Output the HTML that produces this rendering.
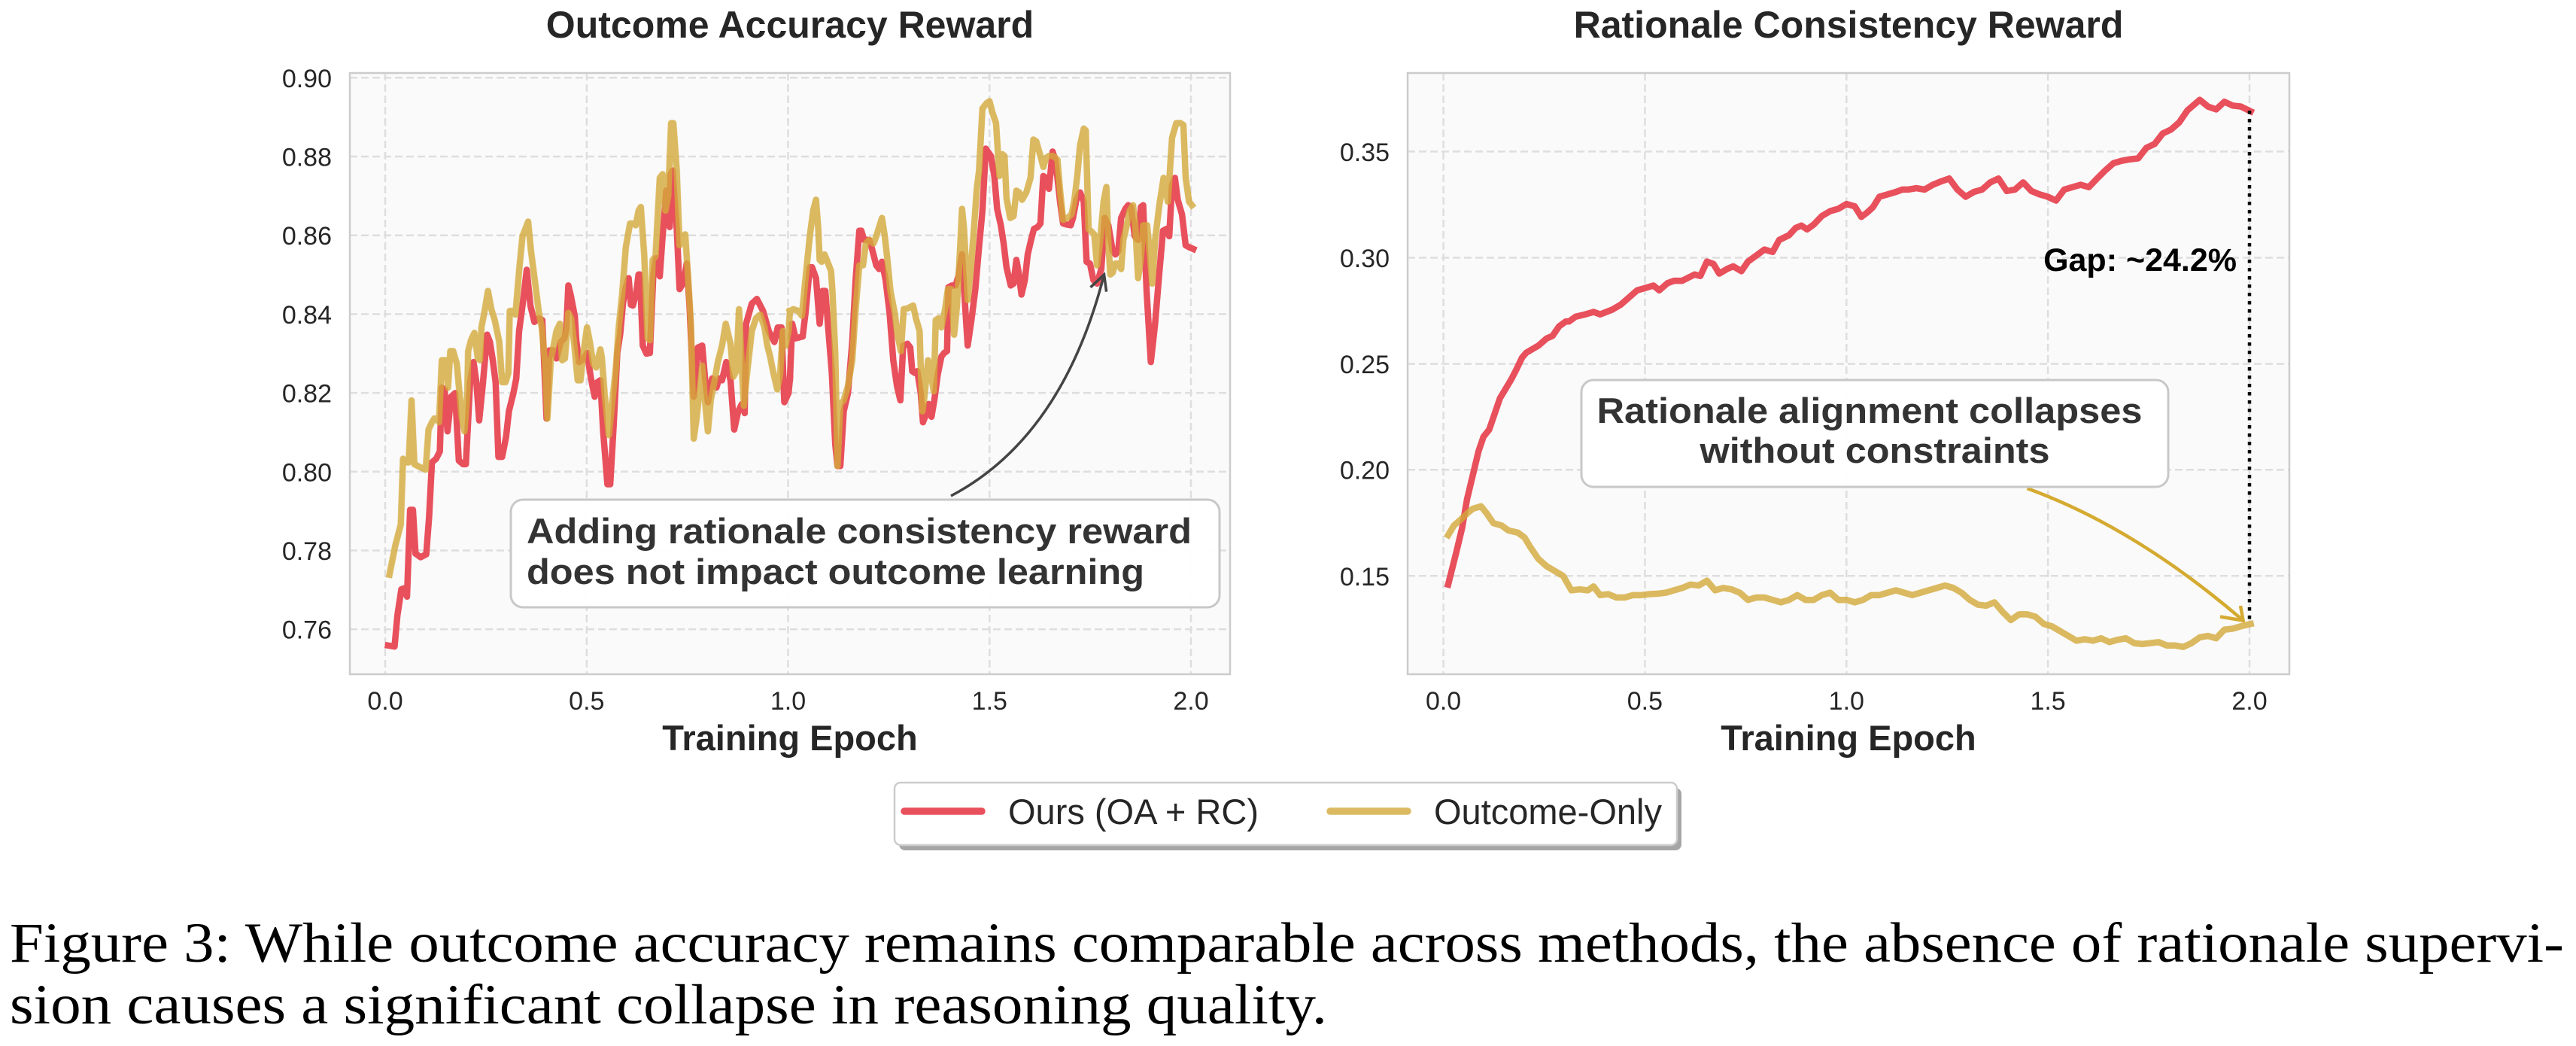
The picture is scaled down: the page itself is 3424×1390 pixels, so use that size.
<!DOCTYPE html>
<html><head><meta charset="utf-8"><style>
html,body{margin:0;padding:0;background:#fff;}
body{width:3424px;height:1390px;overflow:hidden;}
svg{display:block;}
.t{font-family:"Liberation Sans",Arial,sans-serif;fill:#262626;}
</style></head><body>
<svg width="3424" height="1390" viewBox="0 0 3424 1390" xmlns="http://www.w3.org/2000/svg">
<rect x="0" y="0" width="3424" height="1390" fill="#fff"/>

<!-- Titles -->
<text class="t" x="1050" y="50" font-size="50" font-weight="bold" text-anchor="middle">Outcome Accuracy Reward</text>
<text class="t" x="2457" y="50" font-size="50" font-weight="bold" text-anchor="middle">Rationale Consistency Reward</text>

<!-- Left axes background -->
<rect x="465" y="97" width="1170" height="799" fill="#FAFAFA"/>
<g stroke="#DEDEDE" stroke-width="2.5" stroke-dasharray="10 5" fill="none">
  <line x1="465" x2="1635" y1="103.3" y2="103.3"/>
  <line x1="465" x2="1635" y1="208" y2="208"/>
  <line x1="465" x2="1635" y1="312.7" y2="312.7"/>
  <line x1="465" x2="1635" y1="417.4" y2="417.4"/>
  <line x1="465" x2="1635" y1="522.1" y2="522.1"/>
  <line x1="465" x2="1635" y1="626.8" y2="626.8"/>
  <line x1="465" x2="1635" y1="731.5" y2="731.5"/>
  <line x1="465" x2="1635" y1="836.2" y2="836.2"/>
  <line y1="97" y2="896" x1="512" x2="512"/>
  <line y1="97" y2="896" x1="779.8" x2="779.8"/>
  <line y1="97" y2="896" x1="1047.5" x2="1047.5"/>
  <line y1="97" y2="896" x1="1315.3" x2="1315.3"/>
  <line y1="97" y2="896" x1="1583" x2="1583"/>
</g>

<!-- Right axes background -->
<rect x="1871" y="97" width="1172" height="799" fill="#FAFAFA"/>
<g stroke="#DEDEDE" stroke-width="2.5" stroke-dasharray="10 5" fill="none">
  <line x1="1871" x2="3043" y1="201.4" y2="201.4"/>
  <line x1="1871" x2="3043" y1="342.5" y2="342.5"/>
  <line x1="1871" x2="3043" y1="483.6" y2="483.6"/>
  <line x1="1871" x2="3043" y1="624.2" y2="624.2"/>
  <line x1="1871" x2="3043" y1="765.3" y2="765.3"/>
  <line y1="97" y2="896" x1="1918.6" x2="1918.6"/>
  <line y1="97" y2="896" x1="2186.4" x2="2186.4"/>
  <line y1="97" y2="896" x1="2454.3" x2="2454.3"/>
  <line y1="97" y2="896" x1="2722.1" x2="2722.1"/>
  <line y1="97" y2="896" x1="2990" x2="2990"/>
</g>

<!-- Left series: red -->
<g fill="none" stroke="#E8505C" stroke-width="8.5" stroke-linejoin="round" stroke-linecap="square">
<polyline vector-effect="non-scaling-stroke" transform="translate(465,120) scale(0.37622,0.48473)" points="135,1522 158,1525 168,1440 182,1368 193,1365 202,1388 213,1150 223,1150 232,1270 250,1280 270,1272 280,1170 290,1020 305,1010 318,990 325,815 335,820 345,935 358,840 372,830 385,1015 400,1025 410,1025 425,800 437,745 447,800 457,905 470,805 485,670 495,690 505,740 515,800 525,1005 538,1005 552,950 562,880 578,830 588,790 598,660 610,590 625,492 638,590 652,635 668,625 680,630 695,900 705,713 720,713 730,735 745,690 758,680 765,650 772,535 780,560 795,620 800,685 810,745 828,735 838,720 852,790 865,840 875,800 885,795 895,935 910,1080 920,1080 932,920 945,720 955,670 965,585 975,540 985,515 993,588 1000,590 1012,555 1020,505 1025,505 1035,700 1048,722 1060,720 1072,510 1082,460 1095,510 1105,400 1118,275 1130,375 1133,230 1140,220 1155,380 1165,545 1180,525 1190,475 1200,590 1215,840 1230,705 1245,700 1255,790 1265,855 1280,790 1295,815 1305,790 1315,795 1330,745 1345,795 1358,930 1372,880 1385,860 1395,885 1400,640 1420,585 1438,572 1460,605 1480,660 1500,690 1512,650 1525,650 1535,855 1550,830 1555,790"/>
<polyline vector-effect="non-scaling-stroke" transform="translate(1050,120) scale(0.37622,0.48473)" points="0,790 8,640 20,680 45,675 55,610 70,485 78,485 92,515 105,640 115,550 125,550 135,650 148,775 160,970 168,1030 178,1030 190,880 205,830 220,690 232,520 245,385 252,385 262,410 280,410 290,435 305,480 315,490 325,470 338,520 352,610 365,740 378,810 390,850 400,700 415,695 425,705 432,770 442,775 450,770 462,830 470,910 480,890 490,860 500,895 510,850 522,780 535,730 545,720 555,715 560,540 572,535 585,535 595,510 608,450 618,580 628,700 642,625 655,545 668,430 680,330 692,160 710,180 722,235 732,325 745,370 755,420 765,485 780,535 790,530 800,465 808,500 818,560 830,520 840,450 852,410 862,380 875,375 885,365 895,235 905,240 915,270 928,168 937,190 945,240 955,310 965,365 978,368 992,370 1000,350 1012,300 1025,280 1038,305 1048,470 1060,475 1072,520 1085,530 1100,490 1112,350 1125,370 1140,440 1150,450 1160,440 1170,350 1185,325 1195,315 1205,320 1218,400 1230,410 1240,320 1248,315 1260,550 1275,745 1290,640 1305,500 1318,385 1330,380 1340,400 1350,260 1360,240 1370,300 1385,340 1398,425 1410,430 1425,435"/>
</g>
<!-- Left series: yellow -->
<g fill="none" stroke="#D4A93A" stroke-width="8.5" stroke-linejoin="round" stroke-linecap="square" opacity="0.8">
<polyline vector-effect="non-scaling-stroke" transform="translate(465,120) scale(0.37622,0.48473)" points="140,1328 160,1250 180,1190 188,1010 200,1020 208,1020 218,850 228,1025 245,1032 268,1040 278,930 290,910 298,900 308,900 315,910 325,740 338,740 347,815 355,715 365,715 378,750 395,895 405,935 415,830 418,715 428,685 440,665 452,735 460,740 465,650 475,610 488,550 500,600 512,630 528,690 538,800 550,800 560,775 565,605 575,605 585,615 598,495 610,400 620,380 630,360 640,440 655,530 668,610 678,650 690,750 698,900 710,740 720,700 730,660 742,640 750,740 760,735 772,610 782,625 792,690 805,795 815,795 825,720 838,650 848,690 860,750 870,760 885,710 890,730 900,830 915,945 928,850 940,760 950,650 962,560 975,430 990,365 1000,365 1010,370 1020,330 1028,320 1040,450 1052,680 1060,685 1070,465 1080,455 1095,240 1105,230 1115,330 1125,290 1135,90 1143,90 1155,220 1165,425 1175,400 1185,395 1195,510 1205,640 1215,955 1225,900 1245,755 1258,880 1265,935 1275,850 1290,790 1300,745 1315,700 1328,640 1345,695 1355,785 1365,770 1375,600 1385,760 1392,865 1400,800 1410,730 1420,660 1435,625 1450,615 1465,650 1475,700 1485,730 1495,770 1510,820 1520,780 1530,660 1540,700 1550,660 1555,605"/>
<polyline vector-effect="non-scaling-stroke" transform="translate(1050,120) scale(0.37622,0.48473)" points="0,605 12,600 30,605 42,618 55,515 70,400 82,330 92,300 100,380 105,465 112,470 122,450 130,465 145,495 150,550 160,720 168,1030 178,860 190,850 205,810 220,740 232,600 245,480 258,480 268,420 280,410 295,420 305,400 315,375 325,350 335,400 345,470 355,550 370,610 380,670 392,715 402,600 415,598 435,590 445,625 458,660 462,760 468,880 475,840 488,740 498,780 508,825 515,630 525,625 535,650 548,600 558,545 570,545 580,670 590,590 600,450 608,325 615,380 628,575 640,480 650,380 660,270 668,220 680,50 695,35 705,30 715,60 728,90 740,235 750,175 758,180 765,295 778,350 790,345 800,275 810,280 820,300 835,280 850,240 860,135 870,140 885,180 895,210 905,185 915,180 930,180 945,190 955,280 965,355 980,350 995,340 1005,300 1015,235 1025,150 1038,105 1045,110 1055,380 1062,385 1075,395 1085,480 1095,420 1108,305 1118,265 1125,420 1132,505 1140,500 1150,475 1160,475 1170,490 1178,410 1190,370 1200,330 1212,315 1220,370 1230,515 1240,460 1248,370 1262,370 1272,455 1280,530 1290,410 1305,315 1320,240 1335,305 1342,225 1350,130 1365,90 1380,90 1390,95 1398,240 1410,305 1420,315"/>
</g>

<!-- Right series -->
<g fill="none" stroke-width="8.5" stroke-linejoin="round" stroke-linecap="square">
<polyline vector-effect="non-scaling-stroke" stroke="#E8505C" transform="translate(1712,0) scale(1.0918,0.63776)" points="195,1218 205,1150 212,1100 218,1040 225,990 232,940 238,910 245,895 252,860 258,830 265,810 272,790 278,770 285,745 290,735 300,725 305,720 315,705 322,700 330,680 338,670 342,670 350,660 362,655 372,650 380,655 395,645 405,635 415,620 425,605 435,600 445,595 452,605 462,590 470,585 480,585 488,578 495,572 502,575 510,545 518,550 525,570 535,560 542,555 552,565 560,545 572,530 580,520 590,525 598,500 610,490 618,475 625,470 632,478 640,468 650,450 660,440 670,435 680,425 690,430 698,452 705,443 712,432 720,410 730,405 740,400 748,395 755,395 765,392 775,395 785,385 795,378 805,372 815,395 825,410 835,400 845,395 855,380 865,372 875,398 885,395 895,380 905,398 915,405 925,410 935,418 945,395 955,390 965,385 975,390 985,372 995,355 1005,340 1015,335 1025,332 1035,330 1045,308 1055,300 1065,278 1075,270 1085,255 1095,230 1110,208 1120,222 1130,228 1140,212 1150,220 1160,222 1172,232"/>
<polyline vector-effect="non-scaling-stroke" stroke="#D4A93A" opacity="0.8" transform="translate(1712,0) scale(1.0918,0.63776)" points="195,1115 202,1095 210,1083 218,1070 225,1060 235,1055 242,1070 250,1090 260,1095 268,1105 280,1110 288,1120 295,1140 305,1165 315,1180 325,1190 335,1200 345,1230 355,1228 365,1230 372,1222 380,1240 390,1238 400,1245 410,1245 420,1240 430,1240 440,1238 450,1237 460,1235 470,1230 480,1225 490,1218 500,1220 510,1210 520,1230 530,1225 540,1228 550,1235 560,1250 570,1245 580,1245 590,1250 600,1255 610,1250 620,1240 630,1250 640,1250 650,1240 660,1235 670,1250 680,1250 690,1255 700,1250 710,1240 720,1240 730,1235 740,1230 750,1235 760,1240 770,1235 780,1230 790,1225 800,1220 810,1225 820,1235 830,1250 840,1260 850,1262 860,1255 870,1275 880,1292 890,1280 900,1280 910,1285 920,1300 930,1305 940,1315 950,1325 960,1335 970,1332 980,1335 990,1330 1000,1338 1010,1333 1020,1330 1030,1340 1040,1342 1050,1340 1060,1338 1070,1345 1080,1345 1090,1348 1100,1340 1110,1328 1120,1325 1130,1330 1140,1312 1150,1310 1160,1305 1172,1300"/>
</g>

<!-- Frames -->
<rect x="465" y="97" width="1170" height="799" fill="none" stroke="#CCCCCC" stroke-width="2.5"/>
<rect x="1871" y="97" width="1172" height="799" fill="none" stroke="#CCCCCC" stroke-width="2.5"/>

<!-- Left y tick labels -->
<g class="t" font-size="34" text-anchor="end">
<text class="t" x="441" y="116">0.90</text>
<text class="t" x="441" y="220.5">0.88</text>
<text class="t" x="441" y="325.2">0.86</text>
<text class="t" x="441" y="429.9">0.84</text>
<text class="t" x="441" y="534.6">0.82</text>
<text class="t" x="441" y="639.3">0.80</text>
<text class="t" x="441" y="744">0.78</text>
<text class="t" x="441" y="848.7">0.76</text>
</g>
<!-- Right y tick labels -->
<g class="t" font-size="34" text-anchor="end">
<text class="t" x="1847" y="213.9">0.35</text>
<text class="t" x="1847" y="355">0.30</text>
<text class="t" x="1847" y="496.1">0.25</text>
<text class="t" x="1847" y="636.7">0.20</text>
<text class="t" x="1847" y="777.8">0.15</text>
</g>
<!-- X tick labels -->
<g class="t" font-size="34" text-anchor="middle">
<text class="t" x="512" y="943">0.0</text>
<text class="t" x="779.8" y="943">0.5</text>
<text class="t" x="1047.5" y="943">1.0</text>
<text class="t" x="1315.3" y="943">1.5</text>
<text class="t" x="1583" y="943">2.0</text>
<text class="t" x="1918.6" y="943">0.0</text>
<text class="t" x="2186.4" y="943">0.5</text>
<text class="t" x="2454.3" y="943">1.0</text>
<text class="t" x="2722.1" y="943">1.5</text>
<text class="t" x="2990" y="943">2.0</text>
</g>
<text class="t" x="1050" y="997" font-size="47" font-weight="bold" text-anchor="middle">Training Epoch</text>
<text class="t" x="2457" y="997" font-size="47" font-weight="bold" text-anchor="middle">Training Epoch</text>

<!-- Left annotation -->
<path d="M1264,659 Q1412,581 1467.6,364.8" fill="none" stroke="#444" stroke-width="3.5"/>
<path d="M1449.5,381.8 L1467.6,364.8 L1470.6,387.6" fill="none" stroke="#444" stroke-width="3.5" stroke-linejoin="miter"/>
<rect x="679" y="664" width="942" height="143" rx="16" ry="16" fill="#fff" fill-opacity="0.95" stroke="#C8C8C8" stroke-width="3"/>
<text x="700" y="722" font-family="'Liberation Sans',Arial,sans-serif" font-size="47" font-weight="bold" fill="#333" textLength="884" lengthAdjust="spacingAndGlyphs">Adding rationale consistency reward</text>
<text x="700" y="776" font-family="'Liberation Sans',Arial,sans-serif" font-size="47" font-weight="bold" fill="#333" textLength="821" lengthAdjust="spacingAndGlyphs">does not impact outcome learning</text>

<!-- Right annotations -->
<line x1="2990" y1="147" x2="2990" y2="829" stroke="#000" stroke-width="4.5" stroke-dasharray="4.5 6.5"/>
<text x="2973" y="360" font-family="'Liberation Sans',Arial,sans-serif" font-size="43" font-weight="bold" fill="#000" text-anchor="end">Gap: ~24.2%</text>
<path d="M2694.5,649 Q2838,701 2981.6,824.6" fill="none" stroke="#D4AA30" stroke-width="4.5"/>
<path d="M2951,819.5 L2981.6,824.6 L2978,805" fill="none" stroke="#D4AA30" stroke-width="4.5"/>
<rect x="2102" y="505" width="780" height="142" rx="16" ry="16" fill="#fff" fill-opacity="0.95" stroke="#C8C8C8" stroke-width="3"/>
<text x="2485" y="562" font-family="'Liberation Sans',Arial,sans-serif" font-size="47" font-weight="bold" fill="#333" text-anchor="middle" textLength="725" lengthAdjust="spacingAndGlyphs">Rationale alignment collapses</text>
<text x="2492" y="615" font-family="'Liberation Sans',Arial,sans-serif" font-size="47" font-weight="bold" fill="#333" text-anchor="middle" textLength="465" lengthAdjust="spacingAndGlyphs">without constraints</text>

<!-- Legend -->
<rect x="1195" y="1047" width="1040" height="83" rx="8" ry="8" fill="#A6A6A6"/>
<rect x="1189" y="1040" width="1040" height="83" rx="8" ry="8" fill="#fff" stroke="#CCCCCC" stroke-width="2.5"/>
<line x1="1202" y1="1078" x2="1305" y2="1078" stroke="#E8505C" stroke-width="9.5" stroke-linecap="round"/>
<line x1="1768" y1="1078" x2="1871" y2="1078" stroke="#DCBA61" stroke-width="9.5" stroke-linecap="round"/>
<text class="t" x="1340" y="1095" font-size="47">Ours (OA + RC)</text>
<text class="t" x="1906" y="1095" font-size="47">Outcome-Only</text>

<!-- Caption -->
<text x="13" y="1278" font-family="'Liberation Serif','Times New Roman',serif" font-size="75" fill="#000" textLength="3395" lengthAdjust="spacingAndGlyphs">Figure 3: While outcome accuracy remains comparable across methods, the absence of rationale supervi-</text>
<text x="13" y="1360" font-family="'Liberation Serif','Times New Roman',serif" font-size="75" fill="#000" textLength="1751" lengthAdjust="spacingAndGlyphs">sion causes a significant collapse in reasoning quality.</text>
</svg>
</body></html>
